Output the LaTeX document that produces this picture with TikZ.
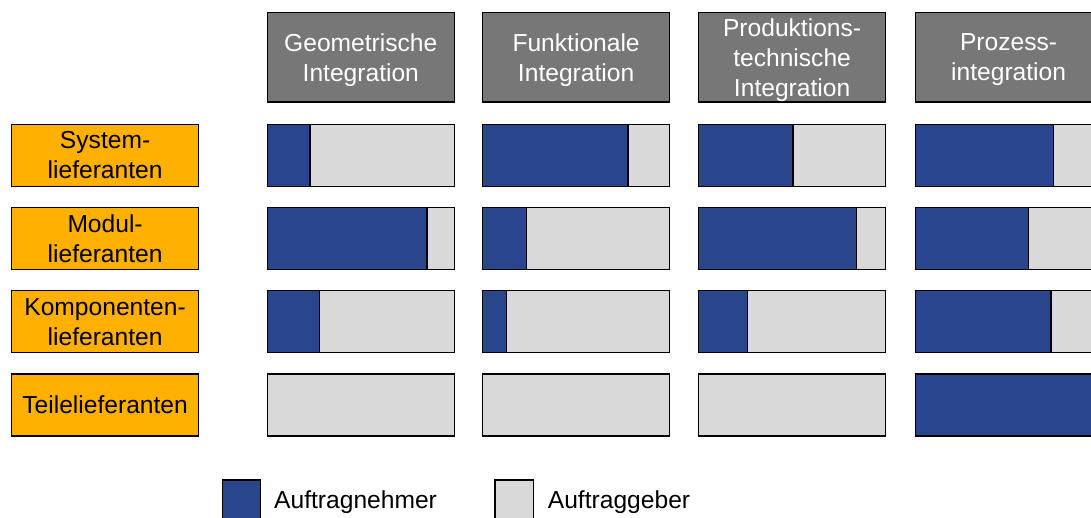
\documentclass[tikz,border=0pt]{standalone}
\usepackage{fontspec}
\setmainfont{Liberation Sans}
\definecolor{blau}{HTML}{29468C}
\definecolor{hellgrau}{HTML}{D9D9D9}
\definecolor{kopfgrau}{HTML}{777777}
\definecolor{lieforange}{HTML}{FFB000}
\begin{document}
\begin{tikzpicture}[x=1pt,y=-1pt,
  txt/.style={font=\fontsize{24.6}{30}\selectfont, align=center, text depth=0pt},
  kopf/.style={txt, draw=black, line width=1.2pt, fill=kopfgrau, text=white,
    minimum width=187pt, minimum height=89.3pt, inner sep=0pt, anchor=north west},
  lief/.style={txt, draw=black, line width=1.2pt, fill=lieforange,
    minimum width=187pt, minimum height=62pt, inner sep=0pt, anchor=north west},
  balken/.style={draw=black, line width=1.2pt, fill=hellgrau,
    minimum width=187pt, minimum height=62pt, inner sep=0pt, anchor=north west,
    path picture={
      \fill[blau] (path picture bounding box.north west) rectangle
        ([xshift=#1]path picture bounding box.south west);
      \draw[line width=1.2pt] ([xshift=#1]path picture bounding box.north west) --
        ([xshift=#1]path picture bounding box.south west);}},
  legfeld/.style={draw=black, line width=1.2pt, minimum width=38.3pt,
    minimum height=40pt, inner sep=0pt, anchor=north west},
  legtext/.style={font=\fontsize{24.6}{30}\selectfont, anchor=base west, inner sep=0pt}]
\clip (0,0) rectangle (1091,517);

% column headers
\node[kopf] (k1) at (266.7,12) {Geometrische\\Integration};
\node[kopf] (k2) at (482,12) {Funktionale\\Integration};
\node[kopf] (k3) at (698,12) {Produktions-\\technische\\Integration};
\node[kopf] (k4) at (914.5,12) {Prozess-\\integration};

% supplier levels
\node[lief] (l1) at (11,123.7) {System-\\lieferanten};
\node[lief] (l2) at (11,206.5) {Modul-\\lieferanten};
\node[lief] (l3) at (11,290.2) {Komponenten-\\lieferanten};
\node[lief] (l4) at (11,373.3) {Teilelieferanten};

% share of the contractor (blue) per level and integration type
\node[balken=42.6pt]  (b11) at (266.7,123.7) {};
\node[balken=145.3pt] (b12) at (482,123.7) {};
\node[balken=94.3pt]  (b13) at (698,123.7) {};
\node[balken=138.2pt] (b14) at (914.5,123.7) {};

\node[balken=159.6pt] (b21) at (266.7,206.5) {};
\node[balken=44pt]    (b22) at (482,206.5) {};
\node[balken=158pt]   (b23) at (698,206.5) {};
\node[balken=113.2pt] (b24) at (914.5,206.5) {};

\node[balken=52.3pt]  (b31) at (266.7,290.2) {};
\node[balken=24pt]    (b32) at (482,290.2) {};
\node[balken=49pt]    (b33) at (698,290.2) {};
\node[balken=135.8pt] (b34) at (914.5,290.2) {};

\node[balken=0pt]     (b41) at (266.7,373.3) {};
\node[balken=0pt]     (b42) at (482,373.3) {};
\node[balken=0pt]     (b43) at (698,373.3) {};
\node[balken=187pt]   (b44) at (914.5,373.3) {};

% legend
\node[legfeld, fill=blau] (lg1) at (221.7,479.3) {};
\node[legtext] (lt1) at (274,508) {Auftragnehmer};
\node[legfeld, fill=hellgrau] (lg2) at (494.3,479.3) {};
\node[legtext] (lt2) at (547.7,508) {Auftraggeber};
\end{tikzpicture}
\end{document}
